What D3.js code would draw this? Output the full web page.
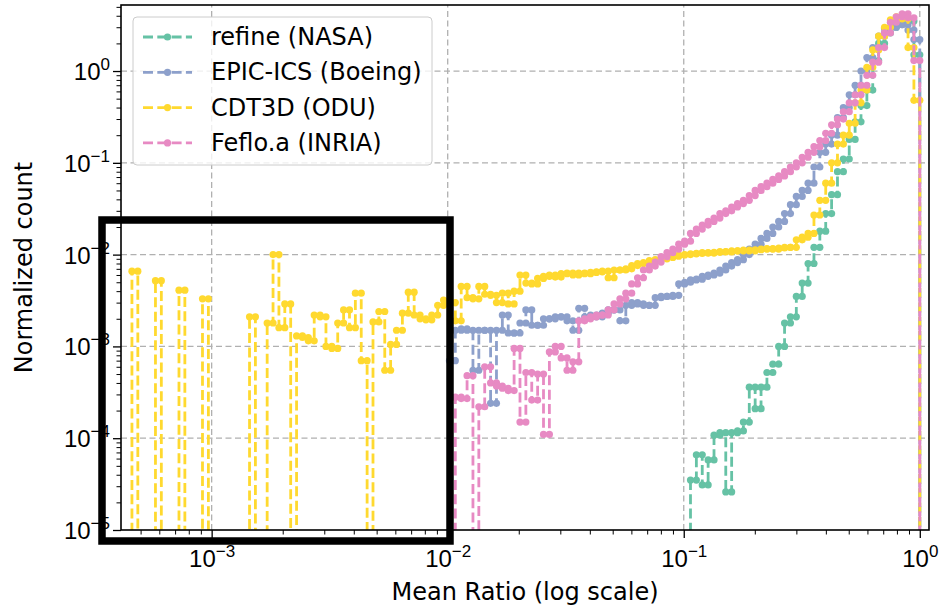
<!DOCTYPE html>
<html>
<head>
<meta charset="utf-8">
<script src="https://cdnjs.cloudflare.com/ajax/libs/d3/7.8.5/d3.min.js"></script>
<style>
  body { margin: 0; background: #fff; }
  svg { display: block; font-family: "DejaVu Sans", sans-serif; }
</style>
</head>
<body>
<script>

// _____________ data
var seriesNames = ['refine (NASA)', 'EPIC-ICS (Boeing)', 'CDT3D (ODU)', 'Feflo.a (INRIA)']
var seriesColors = ['#66c2a5', '#8da0cb', '#ffd92f', '#e78ac3']

// histogram bins : log spaced edges between 10^binLogLo and 10^binLogHi
var binLogLo = -3.3377
var binLogHi = 0
var binCount = 134

// normalized counts per bin, starting at the given first bin (0 = empty bin)
var refineFirstBin = 95
var refineCounts = [
  3.5e-5, 6.6e-5, 3.1e-5, 5.8e-5, 1.08e-4, 1.15e-4, 2.6e-5, 1.15e-4, 1.2e-4, 1.5e-4,
  3.6e-4, 2.1e-4, 3.6e-4, 5.2e-4, 6.4e-4, 1.0e-3, 1.8e-3, 2.1e-3, 3.5e-3, 4.9e-3,
  8.0e-3, 1.2e-2, 1.8e-2, 2.8e-2, 4.5e-2, 8.0e-2, 1.1e-1, 1.8e-1, 2.8e-1, 4.2e-1,
  6.2e-1, 1.3, 2.0, 2.6, 3.0, 3.3, 3.5, 3.5, 1.5
]

var epicFirstBin = 54
var epicCounts = [
  7e-4, 1.5e-3, 1.55e-3, 1.5e-3, 5.5e-4, 1.5e-3, 1.5e-3, 2.4e-4, 1.5e-3, 2.2e-3,
  1.4e-3, 1.4e-3, 1.8e-3, 2.5e-3, 1.7e-3, 1.7e-3, 2.0e-3, 2.0e-3, 2.1e-3, 2.1e-3,
  1.9e-3, 1.5e-3, 2.6e-3, 2.1e-3, 2.2e-3, 2.1e-3, 2.3e-3, 2.5e-3, 2.5e-3, 1.9e-3,
  2.8e-3, 3.0e-3, 2.9e-3, 2.8e-3, 2.8e-3, 3.4e-3, 3.5e-3, 3.5e-3, 3.6e-3, 4.8e-3,
  5.0e-3, 5.3e-3, 5.4e-3, 5.8e-3, 6.0e-3, 6.3e-3, 6.8e-3, 7.5e-3, 8.2e-3, 8.8e-3,
  1.0e-2, 1.15e-2, 1.3e-2, 1.5e-2, 1.7e-2, 2.0e-2, 2.3e-2, 2.8e-2, 3.5e-2, 4.3e-2,
  5.0e-2, 6.0e-2, 9.0e-2, 1.3e-1, 1.6e-1, 2.0e-1, 3.1e-1, 4.0e-1, 5.5e-1, 7.0e-1,
  1.0, 1.4, 1.8, 2.4, 2.9, 3.0, 3.2, 3.2, 2.8, 2.2
]

var cdt3dFirstBin = 0
var cdt3dCounts = [
  6.6e-3, 0, 0, 0, 5.2e-3, 0, 0, 0, 4.1e-3, 0,
  0, 0, 3.3e-3, 0, 0, 0, 0, 0, 0, 0,
  2.1e-3, 0, 0, 1.8e-3, 1.0e-2, 1.6e-3, 2.9e-3, 0, 1.3e-3, 1.25e-3,
  1.15e-3, 2.2e-3, 2.1e-3, 1.0e-3, 9.5e-4, 1.8e-3, 2.5e-3, 1.6e-3, 3.8e-3, 7e-4,
  0, 1.85e-3, 2.4e-3, 5.5e-4, 1.05e-3, 1.5e-3, 2.3e-3, 3.9e-3, 2.2e-3, 2.0e-3,
  1.95e-3, 2.2e-3, 2.8e-3, 3.2e-3, 3.0e-3, 1.9e-3, 4.5e-3, 3.4e-3, 3.3e-3, 4.5e-3,
  3.7e-3, 3.6e-3, 3.0e-3, 3.8e-3, 2.9e-3, 4.0e-3, 6.0e-3, 4.9e-3, 4.8e-3, 5.5e-3,
  5.8e-3, 6.0e-3, 5.7e-3, 6.2e-3, 6.3e-3, 6.0e-3, 6.3e-3, 6.2e-3, 6.4e-3, 6.5e-3,
  6.6e-3, 5.6e-3, 6.8e-3, 6.8e-3, 7.0e-3, 7.6e-3, 8.0e-3, 8.2e-3, 8.6e-3, 8.8e-3,
  9.0e-3, 9.3e-3, 9.6e-3, 9.9e-3, 1.0e-2, 1.02e-2, 1.03e-2, 1.05e-2, 1.04e-2, 1.06e-2,
  1.08e-2, 1.07e-2, 1.1e-2, 1.1e-2, 1.12e-2, 1.1e-2, 1.13e-2, 1.15e-2, 1.16e-2, 1.15e-2,
  1.18e-2, 1.2e-2, 1.2e-2, 1.45e-2, 1.55e-2, 1.7e-2, 2.7e-2, 3.9e-2, 6e-2, 1.0e-1,
  1.6e-1, 2.0e-1, 2.7e-1, 4.5e-1, 6.2e-1, 1.1, 1.7, 2.4, 3.0, 3.6,
  3.9, 3.7, 1.8, 0.48
]

var fefloFirstBin = 55
var fefloCounts = [
  2.8e-4, 2.7e-4, 4.8e-4, 0, 2.2e-4, 6.0e-4, 4.0e-4, 3.7e-4, 3.5e-4, 3.3e-4,
  9.5e-4, 1.5e-4, 5.2e-4, 2.6e-4, 5.0e-4, 1.1e-4, 8.7e-4, 1.0e-3, 7.5e-4, 5.5e-4,
  6.8e-4, 1.9e-3, 2.0e-3, 2.1e-3, 2.2e-3, 2.2e-3, 2.5e-3, 2.9e-3, 3.3e-3, 3.8e-3,
  4.8e-3, 5.6e-3, 6.8e-3, 7.5e-3, 8.3e-3, 9.5e-3, 1.05e-2, 1.15e-2, 1.3e-2, 1.4e-2,
  1.7e-2, 1.9e-2, 2.1e-2, 2.3e-2, 2.5e-2, 2.8e-2, 3.0e-2, 3.3e-2, 3.6e-2, 3.9e-2,
  4.4e-2, 5.0e-2, 5.5e-2, 6.0e-2, 6.6e-2, 7.2e-2, 8.0e-2, 9.0e-2, 1.0e-1, 1.15e-1,
  1.3e-1, 1.5e-1, 1.75e-1, 2.1e-1, 2.6e-1, 3.0e-1, 3.6e-1, 4.5e-1, 5.5e-1, 7.0e-1,
  9.0e-1, 1.25, 1.8, 2.6, 3.4, 3.9, 4.2, 3.8, 1.3
]

var seriesFirstBins = [refineFirstBin, epicFirstBin, cdt3dFirstBin, fefloFirstBin]
var seriesCounts = [refineCounts, epicCounts, cdt3dCounts, fefloCounts]

// axes
var xDomain = [4.13e-4, 1.094]
var yDomain = [1e-5, 5.24]
var xTickExps = [-3, -2, -1, 0]
var yTickExps = [-5, -4, -3, -2, -1, 0]
var xLabel = 'Mean Ratio (log scale)'
var yLabel = 'Normalized count'

// _____________ layout
var width = 940, height = 608
var plot = { left: 121, right: 929, top: 5, bottom: 530 }
var fontSize = 24
var supSize = 17
var lineWidth = 2.8
var dotRadius = 3.6

var x = d3.scaleLog().domain(xDomain).range([plot.left, plot.right])
var y = d3.scaleLog().domain(yDomain).range([plot.bottom, plot.top])
var yZero = plot.bottom + 60   // log(0) -> clipped below the axes

function binEdge(i) {
  return Math.pow(10, binLogLo + i * (binLogHi - binLogLo) / binCount)
}

function stepPoints(first, counts) {
  var pts = [[binEdge(first), 0]]
  counts.forEach(function (c, k) {
    pts.push([binEdge(first + k), c])
    pts.push([binEdge(first + k + 1), c])
  })
  pts.push([binEdge(first + counts.length), 0])
  return pts
}

function supLabel(sel, exp) {
  sel.append('tspan').text('10')
  sel.append('tspan')
    .attr('dy', -10)
    .style('font-size', supSize + 'px')
    .text(exp < 0 ? '\u2212' + (-exp) : String(exp))
}

var svg = d3.select('body').append('svg')
  .attr('width', width)
  .attr('height', height)

svg.append('rect').attr('width', width).attr('height', height).attr('fill', '#fff')

svg.append('clipPath').attr('id', 'plotclip')
  .append('rect')
    .attr('x', plot.left).attr('y', plot.top)
    .attr('width', plot.right - plot.left).attr('height', plot.bottom - plot.top)

// _____________ grid
var grid = svg.append('g').attr('class', 'grid')
  .attr('stroke', '#b0b0b0').attr('stroke-width', 1.3).attr('stroke-dasharray', '6,3.5')

grid.selectAll('line.gx')
  .data(xTickExps)
  .enter().append('line')
    .attr('class', 'gx')
    .attr('x1', function (d) { return x(Math.pow(10, d)) })
    .attr('x2', function (d) { return x(Math.pow(10, d)) })
    .attr('y1', plot.bottom).attr('y2', plot.top)

grid.selectAll('line.gy')
  .data(yTickExps.filter(function (d) { return d > -5 }))
  .enter().append('line')
    .attr('class', 'gy')
    .attr('y1', function (d) { return y(Math.pow(10, d)) })
    .attr('y2', function (d) { return y(Math.pow(10, d)) })
    .attr('x1', plot.left).attr('x2', plot.right)

// _____________ series
var line = d3.line()
  .x(function (d) { return x(d[0]) })
  .y(function (d) { return d[1] > 0 ? y(d[1]) : yZero })

var seriesGroups = svg.append('g')
  .attr('clip-path', 'url(#plotclip)')
  .selectAll('g.series')
  .data(seriesNames)
  .enter().append('g')
    .attr('class', 'series')

seriesGroups.append('path')
  .attr('d', function (d, i) { return line(stepPoints(seriesFirstBins[i], seriesCounts[i])) })
  .attr('fill', 'none')
  .attr('stroke', function (d, i) { return seriesColors[i] })
  .attr('stroke-width', lineWidth)
  .attr('stroke-dasharray', '10,4.3')

seriesGroups.each(function (d, i) {
  var pts = stepPoints(seriesFirstBins[i], seriesCounts[i]).filter(function (p) { return p[1] > 0 })
  d3.select(this).selectAll('circle')
    .data(pts)
    .enter().append('circle')
      .attr('cx', function (p) { return x(p[0]) })
      .attr('cy', function (p) { return y(p[1]) })
      .attr('r', dotRadius)
      .attr('fill', seriesColors[i])
})

// _____________ axes
var yTicks = y.ticks()
var xTicks = x.ticks()
function isMajor(v) { return Math.abs(Math.log10(v) - Math.round(Math.log10(v))) < 1e-9 }

var yAxis = svg.append('g')
  .attr('transform', 'translate(' + plot.left + ',0)')
  .call(d3.axisLeft(y).tickValues(yTicks).tickFormat('').tickSizeOuter(0))
var xAxis = svg.append('g')
  .attr('transform', 'translate(0,' + plot.bottom + ')')
  .call(d3.axisBottom(x).tickValues(xTicks).tickFormat('').tickSizeOuter(0))

yAxis.select('.domain').remove()
xAxis.select('.domain').remove()

yAxis.selectAll('.tick line')
  .attr('stroke', '#000')
  .attr('x2', function (d) { return isMajor(d) ? -8 : -4.5 })
  .attr('stroke-width', function (d) { return isMajor(d) ? 1.3 : 1 })
xAxis.selectAll('.tick line')
  .attr('stroke', '#000')
  .attr('y2', function (d) { return isMajor(d) ? 8 : 4.5 })
  .attr('stroke-width', function (d) { return isMajor(d) ? 1.3 : 1 })

yAxis.selectAll('.tick text').remove()
xAxis.selectAll('.tick text').remove()

yAxis.selectAll('.tick')
  .filter(isMajor)
  .append('text')
    .attr('x', -11)
    .attr('y', 8.5)
    .attr('text-anchor', 'end')
    .attr('fill', '#000')
    .style('font-size', fontSize + 'px')
    .each(function (d) { supLabel(d3.select(this), Math.round(Math.log10(d))) })

xAxis.selectAll('.tick')
  .filter(isMajor)
  .append('text')
    .attr('y', 37)
    .attr('text-anchor', 'middle')
    .attr('fill', '#000')
    .style('font-size', fontSize + 'px')
    .each(function (d) { supLabel(d3.select(this), Math.round(Math.log10(d))) })

// spines
svg.append('rect')
  .attr('x', plot.left).attr('y', plot.top)
  .attr('width', plot.right - plot.left).attr('height', plot.bottom - plot.top)
  .attr('fill', 'none').attr('stroke', '#000').attr('stroke-width', 1.6)

svg.append('text')
  .attr('x', (plot.left + plot.right) / 2)
  .attr('y', 600)
  .attr('text-anchor', 'middle')
  .style('font-size', fontSize + 'px')
  .text(xLabel)

svg.append('text')
  .attr('transform', 'translate(32,' + (plot.top + plot.bottom) / 2 + ') rotate(-90)')
  .attr('text-anchor', 'middle')
  .style('font-size', fontSize + 'px')
  .text(yLabel)

// _____________ legend
var legend = svg.append('g').attr('class', 'legend')

legend.append('rect')
  .attr('x', 133).attr('y', 17)
  .attr('width', 299).attr('height', 148)
  .attr('rx', 4)
  .attr('fill', '#fff').attr('fill-opacity', 0.8)
  .attr('stroke', '#cccccc').attr('stroke-width', 1)

var legendRows = legend.selectAll('g.row')
  .data(seriesNames)
  .enter().append('g')
    .attr('class', 'row')
    .attr('transform', function (d, i) { return 'translate(0,' + (37 + i * 35.3) + ')' })

legendRows.append('line')
  .attr('x1', 143).attr('x2', 192)
  .attr('stroke', function (d, i) { return seriesColors[i] })
  .attr('stroke-width', lineWidth)
  .attr('stroke-dasharray', '10,4.3')

legendRows.append('circle')
  .attr('cx', 167.5).attr('r', dotRadius)
  .attr('fill', function (d, i) { return seriesColors[i] })

legendRows.append('text')
  .attr('x', 211).attr('y', 8)
  .style('font-size', fontSize + 'px')
  .text(function (d) { return d })

// _____________ highlight box
svg.append('rect')
  .attr('x', 102).attr('y', 220)
  .attr('width', 348).attr('height', 321)
  .attr('fill', 'none')
  .attr('stroke', '#000')
  .attr('stroke-width', 7.5)

</script>
</body>
</html>
